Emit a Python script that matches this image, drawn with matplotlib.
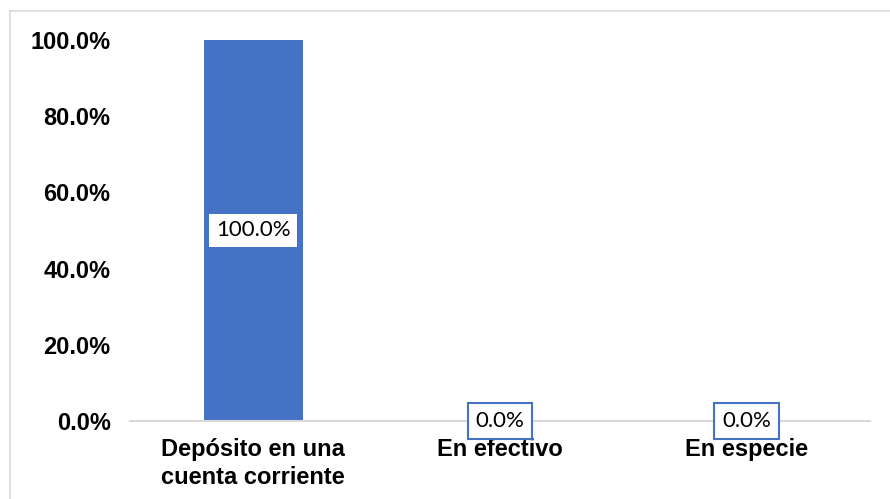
import matplotlib
matplotlib.use("Agg")
import matplotlib.pyplot as plt
from matplotlib.lines import Line2D
from matplotlib.ticker import FuncFormatter

categories = ["Depósito en una\ncuenta corriente", "En efectivo", "En especie"]
values = [1.0, 0.0, 0.0]
yticks = [0.0, 0.2, 0.4, 0.6, 0.8, 1.0]

W, H = 890, 499
fig = plt.figure(figsize=(W / 100, H / 100), dpi=100)
ax = fig.add_axes([130 / W, 1 - 421 / H, 740 / W, 381 / H])

bar_color = "#4472C4"
x = list(range(len(categories)))
ax.bar(x, values, width=0.4, color=bar_color, zorder=2)
ax.set_xlim(-0.5, len(categories) - 0.5)
ax.set_ylim(0, 1.0)
ax.set_yticks(yticks)
ax.yaxis.set_major_formatter(FuncFormatter(lambda v, p: f"{v*100:.1f}%"))
ax.set_xticks(x)
ax.set_xticklabels(categories, fontfamily="Liberation Sans", fontweight="bold",
                   fontsize=17, linespacing=1.3)
for lab in ax.get_yticklabels():
    lab.set_fontfamily("Liberation Sans")
    lab.set_fontweight("bold")
    lab.set_fontsize(17)
ax.tick_params(axis="both", length=0)
ax.tick_params(axis="y", pad=14)
ax.tick_params(axis="x", pad=12)
for s in ["top", "right", "left"]:
    ax.spines[s].set_visible(False)
ax.spines["bottom"].set_color("#d9d9d9")
ax.spines["bottom"].set_linewidth(1.5)

for xi, v in zip(x, values):
    txt = f"{v*100:.1f}%"
    if v > 0:
        ax.text(xi, v / 2, txt, ha="center", va="center", fontsize=16,
                fontfamily="Lato", zorder=4,
                bbox=dict(boxstyle="square,pad=0.3", fc="white", ec="none"))
    else:
        ax.text(xi, v, txt, ha="center", va="center", fontsize=16,
                fontfamily="Lato", zorder=4,
                bbox=dict(boxstyle="square,pad=0.35", fc="white", ec=bar_color, lw=1.5))

# chart-area border (top and left only visible)
fig.add_artist(Line2D([10 / W, 1], [1 - 11 / H, 1 - 11 / H], color="#d9d9d9", lw=1.2))
fig.add_artist(Line2D([10 / W, 10 / W], [0, 1 - 11 / H], color="#d9d9d9", lw=1.2))

fig.savefig("out.png", dpi=100)
